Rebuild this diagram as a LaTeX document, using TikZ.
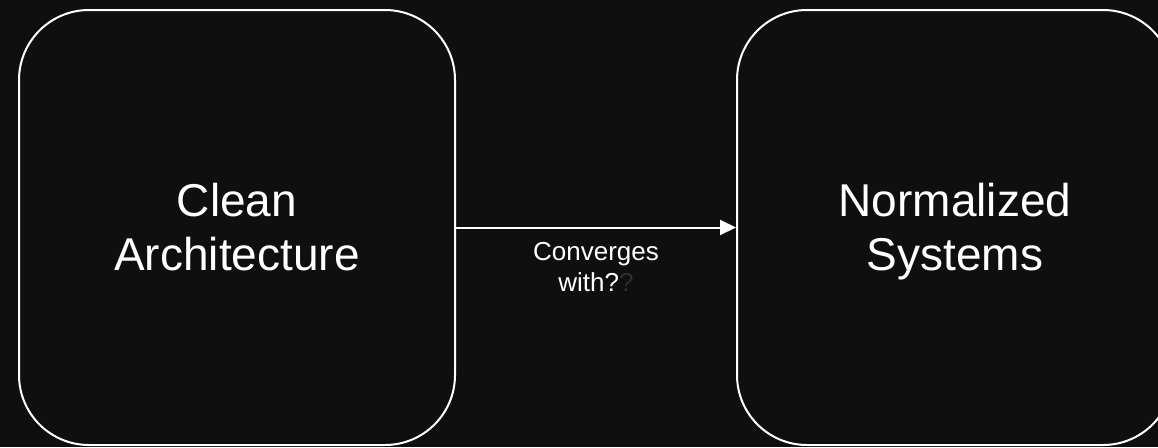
\documentclass[tikz,border=0pt]{standalone}
\usepackage{fontspec}
\setmainfont{Liberation Sans}
\usetikzlibrary{arrows.meta}
\definecolor{canvas}{HTML}{0F0F0F}
\definecolor{dimmark}{HTML}{2E2E2E}
\tikzset{
    block/.style={draw=white,line width=2pt,rounded corners=70pt,minimum width=436pt,minimum height=435pt,inner sep=0pt},
    blocktext/.style={text=white,align=center,inner sep=0pt,font=\fontsize{46}{54}\selectfont},
    flowtext/.style={text=white,align=center,inner sep=0pt,font=\fontsize{26}{31}\selectfont},
}
\begin{document}
\begin{tikzpicture}[x=1pt,y=1pt,>={Triangle[length=16pt,width=15pt]}]
    \fill [canvas] (0,0) rectangle (1158,-447);
    \useasboundingbox (0,0) rectangle (1158,-447);
    % the two systems
    \node [block] (clean) at (237,-227.5) {};
    \node [block] (norm) at (955,-227.5) {};
    \node [blocktext] (cleantext) at ([yshift=-4pt]clean.center) {Clean\\Architecture\vphantom{y}};
    \node [blocktext] (normtext) at ([yshift=-4pt]norm.center) {Normalized\\Systems};
    % relation
    \draw [white,line width=2pt,->] (clean.east) -- (norm.west)
        node [flowtext,midway,below=14pt] (converge) {Converges\\with?\textcolor{dimmark}{?}};
\end{tikzpicture}
\end{document}
